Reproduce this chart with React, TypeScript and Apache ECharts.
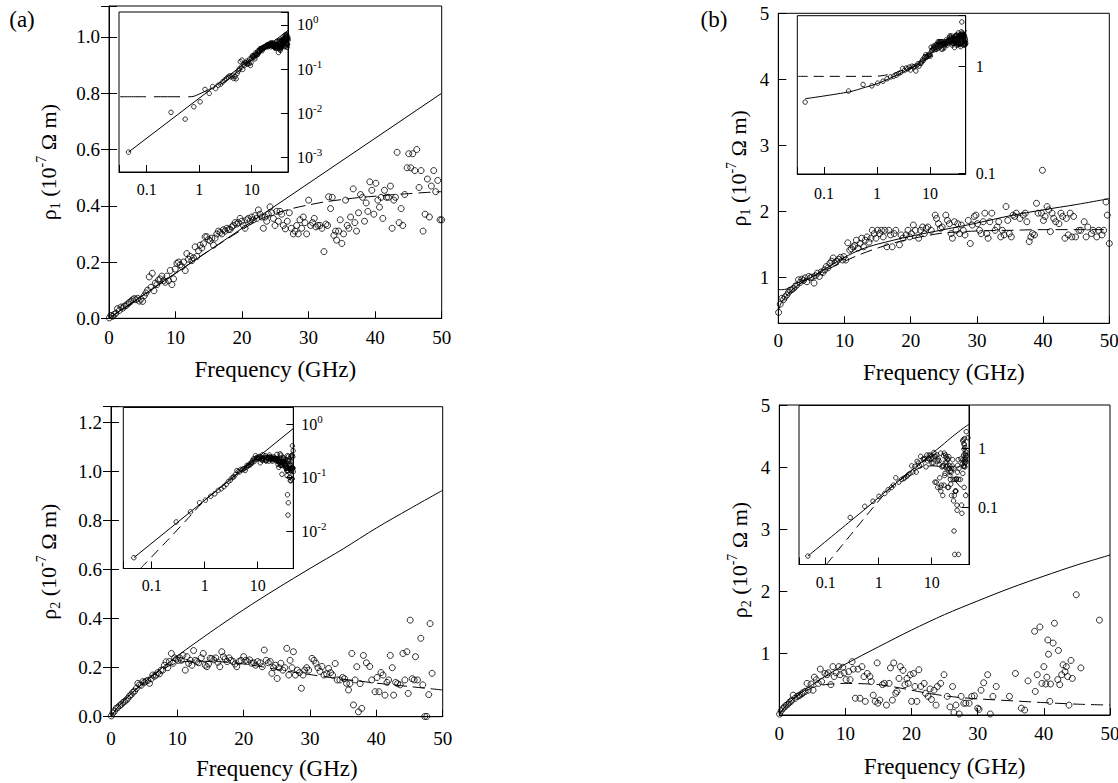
import React, { useEffect, useRef } from "react";
import * as echarts from "echarts";

const FONT = "Liberation Serif";

// ---------- Panel (a), rho1 ----------
const scatterA1: number[][] = [
  [0.045,0.0013],[0.29,0.0104],[0.54,0.0073],[0.79,0.0139],[1.04,0.018],[1.29,0.0345],[1.55,0.028],[1.8,0.04],[2.05,0.036],[2.3,0.043],
  [2.55,0.045],[2.8,0.051],[3.05,0.056],[3.3,0.061],[3.55,0.066],[3.8,0.07],[4.05,0.066],[4.3,0.071],[4.55,0.061],[4.8,0.068],
  [5.05,0.06],[5.3,0.08],[5.55,0.09],[5.8,0.1],[6.05,0.147],[6.3,0.11],[6.5,0.16],[6.75,0.098],[6.95,0.125],[7.2,0.12],
  [7.45,0.136],[7.7,0.14],[7.95,0.15],[8.2,0.134],[8.45,0.128],[8.7,0.15],[8.95,0.134],[9.2,0.17],[9.45,0.12],[9.7,0.14],
  [9.95,0.175],[10.2,0.195],[10.45,0.2],[10.7,0.19],[10.95,0.183],[11.2,0.2],[11.45,0.17],[11.7,0.23],[11.95,0.21],[12.2,0.22],
  [12.45,0.205],[12.7,0.215],[12.95,0.254],[13.2,0.22],[13.45,0.24],[13.7,0.26],[13.95,0.25],[14.2,0.265],[14.45,0.29],[14.7,0.29],
  [14.95,0.28],[15.2,0.275],[15.45,0.285],[15.7,0.26],[15.95,0.285],[16.2,0.3],[16.45,0.31],[16.7,0.305],[16.95,0.3],[17.2,0.315],
  [17.45,0.31],[17.7,0.32],[17.95,0.315],[18.2,0.316],[18.45,0.325],[18.7,0.33],[18.95,0.34],[19.2,0.335],[19.45,0.34],[19.7,0.355],
  [19.95,0.345],[20.2,0.33],[20.45,0.32],[20.7,0.35],[20.95,0.355],[21.2,0.345],[21.45,0.36],[21.7,0.35],[21.95,0.365],[22.2,0.355],
  [22.45,0.385],[22.7,0.37],[22.95,0.36],[23.2,0.32],[23.45,0.36],[23.7,0.345],[23.95,0.37],[24.2,0.396],[24.45,0.375],[24.7,0.355],
  [24.95,0.33],[25.2,0.38],[25.45,0.345],[25.7,0.38],[25.95,0.37],[26.2,0.33],[26.5,0.318],[26.8,0.345],[27.1,0.375],[27.4,0.32],
  [27.7,0.3],[27.95,0.31],[28.2,0.33],[28.45,0.3],[28.7,0.35],[28.95,0.32],[29.2,0.36],[29.45,0.34],[29.7,0.3],[30.0,0.42],
  [30.3,0.33],[30.6,0.34],[30.85,0.355],[31.1,0.325],[31.4,0.33],[31.7,0.33],[32.0,0.32],[32.3,0.237],[32.6,0.335],[32.85,0.33],
  [33.0,0.432],[33.3,0.39],[33.55,0.43],[33.8,0.295],[34.05,0.31],[34.2,0.278],[34.5,0.31],[34.75,0.35],[35.0,0.266],[35.25,0.3],
  [35.55,0.42],[35.8,0.33],[36.05,0.32],[36.3,0.36],[36.7,0.46],[36.95,0.34],[37.2,0.31],[37.5,0.375],[37.8,0.44],[38.1,0.43],
  [38.4,0.345],[38.65,0.41],[38.9,0.38],[39.2,0.485],[39.5,0.455],[39.8,0.37],[40.1,0.48],[40.4,0.42],[40.65,0.395],[40.9,0.43],
  [41.15,0.355],[41.4,0.455],[41.7,0.43],[42.0,0.43],[42.3,0.47],[42.55,0.32],[42.8,0.42],[43.05,0.43],[43.3,0.59],[43.6,0.34],
  [43.9,0.39],[44.15,0.33],[44.45,0.44],[44.8,0.535],[45.05,0.585],[45.35,0.535],[45.65,0.585],[45.95,0.525],[46.25,0.6],[46.6,0.465],
  [46.9,0.525],[47.2,0.31],[47.5,0.37],[47.85,0.495],[48.15,0.36],[48.45,0.47],[48.8,0.525],[49.1,0.45],[49.4,0.49],[49.75,0.35],[50.0,0.35]
];
const solidA1: number[][] = [[0,0],[50,0.8]];
const dashA1: number[][] = [[0,0],[5,0.08],[10,0.16],[15,0.24],[20,0.315],[22.5,0.35],[25,0.372],[27.5,0.39],[30,0.403],[32.5,0.414],[35,0.422],[37.5,0.429],[40,0.434],[42.5,0.439],[45,0.443],[47.5,0.447],[50,0.45]];
const insetSolidA1: number[][] = [[0.045,0.0013],[49,0.75]];
const insetDashA1: number[][] = [[0.031,0.0235],[0.7,0.0235],[1.0,0.027],[1.5,0.034],[2,0.04],[3,0.05],[5,0.08],[10,0.16],[20,0.315],[30,0.403],[49,0.45]];

// ---------- Panel (a), rho2 ----------
const scatterA2: number[][] = [
  [0.046,0.0032],[0.29,0.0149],[0.54,0.023],[0.8,0.034],[1.03,0.038],[1.3,0.045],[1.55,0.05],[1.8,0.058],[2.05,0.062],[2.3,0.068],
  [2.55,0.075],[2.8,0.085],[3.05,0.09],[3.3,0.1],[3.55,0.104],[3.8,0.115],[4.05,0.136],[4.3,0.13],[4.55,0.128],[4.8,0.143],
  [5.05,0.14],[5.3,0.145],[5.55,0.148],[5.8,0.136],[6.05,0.155],[6.3,0.17],[6.55,0.165],[6.8,0.17],[7.05,0.18],[7.3,0.175],
  [7.55,0.19],[7.8,0.19],[8.05,0.21],[8.3,0.224],[8.55,0.2],[8.8,0.225],[9.1,0.258],[9.35,0.218],[9.6,0.24],[9.85,0.235],
  [10.1,0.23],[10.35,0.24],[10.6,0.23],[10.85,0.25],[11.2,0.19],[11.45,0.245],[11.7,0.218],[11.95,0.23],[12.2,0.21],[12.45,0.27],
  [12.7,0.23],[12.95,0.225],[13.2,0.22],[13.6,0.24],[13.9,0.258],[14.2,0.21],[14.45,0.204],[14.7,0.215],[14.95,0.238],[15.2,0.237],
  [15.5,0.232],[15.8,0.24],[16.1,0.222],[16.4,0.204],[16.7,0.265],[16.95,0.245],[17.2,0.236],[17.5,0.225],[17.8,0.24],[18.1,0.23],
  [18.4,0.225],[18.7,0.215],[18.95,0.204],[19.3,0.225],[19.6,0.23],[20.0,0.245],[20.3,0.23],[20.6,0.225],[20.9,0.232],[21.2,0.218],
  [21.5,0.22],[21.8,0.21],[22.1,0.225],[22.5,0.22],[22.8,0.204],[23.1,0.272],[23.4,0.23],[23.7,0.22],[24.0,0.225],[24.25,0.177],
  [24.5,0.2],[24.8,0.21],[25.05,0.156],[25.3,0.2],[25.6,0.218],[25.9,0.19],[26.2,0.2],[26.5,0.279],[26.8,0.17],[27.0,0.23],
  [27.3,0.2],[27.5,0.265],[27.8,0.17],[28.1,0.19],[28.4,0.18],[28.7,0.116],[28.95,0.17],[29.2,0.19],[29.5,0.2],[29.8,0.19],
  [30.3,0.238],[30.6,0.23],[30.9,0.218],[31.2,0.2],[31.5,0.185],[31.8,0.205],[32.1,0.17],[32.5,0.175],[32.8,0.197],[33.1,0.18],
  [33.4,0.17],[33.8,0.217],[34.1,0.15],[34.5,0.15],[34.9,0.16],[35.2,0.155],[35.5,0.136],[35.8,0.109],[36.0,0.135],[36.3,0.258],
  [36.55,0.048],[36.8,0.15],[37.05,0.204],[37.3,0.02],[37.55,0.135],[37.8,0.034],[38.05,0.25],[38.5,0.22],[39.0,0.205],[39.3,0.15],
  [39.8,0.102],[40.1,0.16],[40.4,0.102],[40.7,0.18],[41.0,0.17],[41.3,0.088],[41.6,0.14],[41.85,0.15],[42.1,0.25],[42.4,0.2],
  [42.6,0.088],[42.9,0.14],[43.2,0.135],[43.6,0.13],[44.0,0.258],[44.3,0.15],[44.6,0.265],[44.8,0.095],[45.1,0.394],[45.4,0.155],
  [45.7,0.15],[45.9,0.245],[46.2,0.15],[46.7,0.32],[47.0,0.13],[47.3,0.001],[47.6,0.001],[47.9,0.09],[48.1,0.38],[48.4,0.177]
];
const solidA2: number[][] = [[0,0],[1,0.038],[2,0.066],[3,0.093],[5,0.14],[7.5,0.195],[10,0.248],[15,0.345],[20,0.437],[25,0.523],[30,0.605],[35,0.685],[40,0.77],[45,0.848],[50,0.924]];
const dashA2: number[][] = [[0,0],[1,0.038],[2,0.066],[3,0.093],[5,0.14],[7.5,0.19],[10,0.22],[12.5,0.226],[15,0.226],[17.5,0.222],[20,0.215],[22.5,0.205],[25,0.193],[27.5,0.182],[30,0.172],[32.5,0.162],[35,0.153],[37.5,0.145],[40,0.137],[42.5,0.13],[45,0.123],[47.5,0.116],[50,0.109]];
const insetSolidA2: number[][] = [[0.046,0.0032],[47,0.83]];
const insetDashA2: number[][] = [[0.061,0.002],[0.2,0.0068],[0.5,0.018],[1,0.038],[2,0.066],[5,0.14],[10,0.22],[15,0.226],[20,0.215],[30,0.172],[47,0.12]];

// ---------- Panel (b), rho1 ----------
const scatterB1: number[][] = [
  [0.044,0.465],[0.29,0.59],[0.545,0.68],[0.8,0.66],[1.03,0.7],[1.3,0.73],[1.55,0.77],[1.8,0.8],[2.05,0.81],[2.3,0.83],
  [2.55,0.86],[2.8,0.88],[3.05,0.96],[3.3,0.92],[3.55,0.97],[3.8,0.95],[4.05,0.99],[4.3,0.93],[4.6,1.01],[4.85,0.99],
  [5.1,1.0],[5.4,0.91],[5.6,1.02],[5.9,1.06],[6.2,1.01],[6.5,1.08],[6.75,1.07],[7.0,1.11],[7.25,1.16],[7.5,1.14],
  [7.8,1.21],[8.05,1.24],[8.3,1.29],[8.55,1.22],[8.8,1.24],[9.1,1.27],[9.4,1.3],[9.7,1.26],[9.9,1.31],[10.2,1.26],
  [10.5,1.52],[10.8,1.41],[11.05,1.43],[11.3,1.46],[11.55,1.48],[11.8,1.56],[12.05,1.44],[12.35,1.51],[12.6,1.59],[12.9,1.46],
  [13.15,1.56],[13.4,1.61],[13.7,1.53],[14.0,1.59],[14.2,1.71],[14.5,1.66],[14.75,1.59],[15.0,1.71],[15.3,1.66],[15.6,1.71],
  [15.85,1.61],[16.1,1.71],[16.4,1.46],[16.7,1.71],[16.95,1.64],[17.2,1.46],[17.5,1.66],[17.75,1.71],[18.3,1.49],[18.55,1.64],
  [18.8,1.59],[19.3,1.64],[19.6,1.71],[19.85,1.61],[20.1,1.66],[20.4,1.79],[20.7,1.71],[21.2,1.59],[21.5,1.71],[21.8,1.76],
  [22.05,1.66],[22.35,1.74],[22.6,1.76],[23.1,1.71],[23.7,1.94],[23.9,1.89],[24.2,1.81],[24.5,1.74],[24.75,1.76],[25.3,1.94],
  [25.55,1.86],[25.85,1.81],[26.1,1.66],[26.3,1.59],[26.6,1.84],[26.85,1.71],[27.1,1.81],[27.4,1.66],[27.65,1.79],[27.95,1.71],
  [28.2,1.64],[28.7,1.86],[29.0,1.51],[29.3,1.79],[29.6,1.92],[29.85,1.94],[30.1,1.81],[30.4,1.71],[30.65,1.66],[30.95,1.84],
  [31.2,1.97],[31.5,1.66],[31.7,1.59],[31.95,1.84],[32.25,1.97],[32.75,1.71],[33.05,1.76],[33.3,1.84],[33.6,1.61],[33.85,1.71],
  [34.1,1.64],[34.4,2.07],[34.65,1.86],[34.9,1.66],[35.2,1.61],[35.45,1.94],[35.7,1.92],[35.95,1.97],[36.5,1.89],[37.0,1.94],
  [37.3,1.97],[37.55,1.84],[37.9,1.54],[38.15,1.61],[38.4,1.66],[38.7,1.64],[39.0,2.12],[39.25,1.97],[39.75,1.97],[39.9,2.62],
  [40.05,1.86],[40.3,1.92],[40.6,2.07],[40.85,2.02],[41.1,1.69],[41.35,1.97],[41.6,1.89],[41.9,1.84],[42.4,1.81],[42.7,1.97],
  [42.95,1.92],[43.3,1.59],[43.5,1.89],[43.8,1.64],[44.1,1.97],[44.35,1.61],[44.6,1.92],[44.9,1.61],[45.4,1.71],[45.7,1.71],
  [46.2,1.84],[46.5,1.61],[46.75,1.76],[47.3,1.66],[47.55,1.71],[48.1,1.61],[48.4,1.71],[48.9,1.64],[49.15,1.71],[49.5,2.14],
  [49.7,1.94],[50.0,1.51]
];
const solidB1: number[][] = [[0.044,0.5],[0.3,0.58],[0.6,0.64],[1,0.69],[2,0.8],[3,0.88],[5,1.0],[7.5,1.15],[10,1.3],[12.5,1.42],[15,1.5],[20,1.62],[25,1.72],[30,1.82],[35,1.93],[40,2.02],[45,2.1],[50,2.19]];
const dashB1: number[][] = [[0.032,0.81],[0.7,0.81],[1.2,0.82],[1.6,0.84],[2,0.86],[3,0.92],[5,1.0],[7.5,1.12],[10,1.24],[12.5,1.35],[15,1.44],[17.5,1.52],[20,1.58],[22.5,1.63],[25,1.67],[30,1.7],[35,1.71],[40,1.72],[45,1.72],[50,1.72]];

// ---------- Panel (b), rho2 ----------
const scatterB2: number[][] = [
  [0.046,0.015],[0.29,0.068],[0.545,0.105],[0.78,0.128],[1.01,0.155],[1.3,0.173],[1.5,0.2],[1.75,0.22],[1.9,0.24],[2.1,0.32],
  [2.4,0.27],[2.7,0.3],[2.95,0.31],[3.1,0.32],[3.4,0.34],[3.6,0.36],[3.9,0.38],[4.2,0.51],[4.4,0.4],[4.8,0.5],
  [5.1,0.4],[5.3,0.61],[5.6,0.57],[5.9,0.51],[6.2,0.74],[6.4,0.54],[6.9,0.67],[7.2,0.65],[7.4,0.68],[7.8,0.49],
  [8.1,0.78],[8.3,0.62],[8.6,0.68],[9.0,0.78],[9.2,0.65],[9.6,0.77],[9.8,0.68],[10.1,0.57],[10.5,0.7],[10.7,0.57],
  [11.0,0.86],[11.2,0.74],[11.5,0.27],[11.9,0.74],[12.2,0.27],[12.5,0.78],[12.8,0.62],[13.0,0.22],[13.3,0.67],[13.7,0.62],
  [13.9,0.54],[14.2,0.32],[14.5,0.22],[14.8,0.84],[14.9,0.19],[15.2,0.24],[15.6,0.49],[15.9,0.51],[16.2,0.16],[16.6,0.51],
  [16.8,0.76],[17.1,0.24],[17.3,0.84],[17.6,0.35],[17.8,0.38],[18.1,0.59],[18.3,0.78],[18.7,0.72],[19.0,0.49],[19.3,0.59],
  [19.5,0.51],[19.8,0.65],[20.0,0.22],[20.3,0.67],[20.5,0.46],[20.8,0.22],[21.1,0.73],[21.4,0.46],[21.9,0.51],[22.1,0.35],
  [22.5,0.3],[22.8,0.42],[23.0,0.25],[23.4,0.4],[23.7,0.16],[23.9,0.46],[24.4,0.51],[24.9,0.65],[25.4,0.3],[25.8,0.13],
  [26.2,0.46],[26.4,0.04],[26.7,0.16],[27.2,0.016],[27.5,0.3],[27.9,0.19],[28.2,0.19],[28.7,0.19],[29.1,0.3],[29.5,0.31],
  [30.0,0.11],[30.2,0.09],[30.5,0.4],[30.9,0.52],[31.5,0.65],[31.9,0.016],[32.3,0.3],[32.8,0.46],[34.8,0.3],[35.7,0.67],
  [36.6,0.11],[37.1,0.08],[37.6,0.55],[38.6,1.35],[38.7,0.38],[39.0,0.65],[39.4,1.42],[39.7,0.51],[40.0,0.78],[40.3,0.5],
  [40.45,0.61],[40.6,1.21],[40.7,0.98],[40.9,0.22],[41.0,0.5],[41.4,1.16],[41.6,1.48],[42.1,0.57],[42.2,1.04],[42.4,0.49],
  [42.7,0.65],[42.9,0.81],[43.2,0.7],[43.4,0.78],[43.6,0.62],[43.8,0.16],[44.1,0.88],[44.3,0.59],[44.9,1.94],[45.6,0.76],
  [48.4,1.53]
];
const solidB2: number[][] = [[0.046,0.015],[0.3,0.06],[0.6,0.1],[1,0.149],[2,0.248],[3,0.336],[5,0.49],[7.5,0.66],[10,0.82],[15,1.1],[20,1.37],[25,1.62],[30,1.84],[35,2.05],[40,2.24],[45,2.42],[50,2.58]];
const dashB2: number[][] = [[0,0],[1,0.15],[2,0.25],[3,0.33],[5,0.44],[7,0.49],[10,0.51],[12.5,0.505],[15,0.49],[17.5,0.45],[20,0.4],[22.5,0.35],[25,0.31],[27.5,0.28],[30,0.26],[35,0.23],[40,0.2],[45,0.175],[50,0.16]];
const insetDashB2: number[][] = [[0.103,0.0108],[0.3,0.035],[0.6,0.075],[1,0.13],[1.3,0.17],[2,0.25],[3,0.33],[5,0.44],[7,0.49],[10,0.51],[15,0.49],[20,0.4],[30,0.26],[50,0.16]];

// ---------- layout ----------
const mainTitle = "Frequency (GHz)";
const yName1 = "{t|ρ}{s|1}{t| (10}{p|-7}{t| Ω m)}";
const yName2 = "{t|ρ}{s|2}{t| (10}{p|-7}{t| Ω m)}";

const nameRich = {
  t: { fontSize: 22, fontFamily: FONT, color: "#000", lineHeight: 28 },
  s: { fontSize: 14, fontFamily: FONT, color: "#000", verticalAlign: "bottom" },
  p: { fontSize: 14, fontFamily: FONT, color: "#000", verticalAlign: "top" },
};

const isPow10 = (v: number) => {
  const l = Math.log10(v);
  return Math.abs(l - Math.round(l)) < 1e-6;
};
const decLabel = (v: number) => {
  if (!isPow10(v)) return "";
  const n = Math.round(Math.log10(v));
  return n < 0 ? "0." + "0".repeat(-n - 1) + "1" : "1" + "0".repeat(n);
};
const powLabel = (v: number) => {
  if (!isPow10(v)) return "";
  const n = Math.round(Math.log10(v));
  return "{b|10}{p|" + n + "}";
};

function buildOption(): any {
  const gridBase = { show: true, borderColor: "#000", borderWidth: 1, containLabel: false, outerBoundsMode: "none" };
  const grid = [
    { left: 109, top: 6, width: 332.7, height: 312.3 },
    { left: 119, top: 12, width: 169, height: 160, backgroundColor: "#fff" },
    { left: 111, top: 406.7, width: 331.7, height: 310 },
    { left: 123.3, top: 407.5, width: 170, height: 161, backgroundColor: "#fff" },
    { left: 778.3, top: 13.3, width: 331, height: 310 },
    { left: 797.3, top: 15.7, width: 168.4, height: 158.3, backgroundColor: "#fff" },
    { left: 779.3, top: 405, width: 330.7, height: 310 },
    { left: 799, top: 405.5, width: 170, height: 159, backgroundColor: "#fff" },
  ].map((g) => ({ ...gridBase, ...g }));

  const mainX = (gi: number, margin: number, nameGap: number) => ({
    type: "value", gridIndex: gi, min: 0, max: 50, interval: 10,
    axisLine: { show: true, onZero: false, lineStyle: { color: "#000", width: 1 } },
    axisTick: { show: true, inside: true, length: 7, lineStyle: { color: "#000" } },
    axisLabel: { margin, color: "#000", fontSize: 19, fontFamily: FONT, showMinLabel: true, showMaxLabel: true },
    splitLine: { show: false },
    name: mainTitle, nameLocation: "middle", nameGap,
    nameTextStyle: { color: "#000", fontSize: 23, fontFamily: FONT },
  });
  const insetX = (gi: number, min: number, max: number, margin: number) => ({
    type: "log", logBase: 10, gridIndex: gi, min, max, splitNumber: 5,
    axisLine: { show: true, onZero: false, lineStyle: { color: "#000", width: 1 } },
    axisTick: { show: true, inside: true, length: 7, lineStyle: { color: "#000" } },
    axisLabel: { margin, color: "#000", fontSize: 16, fontFamily: FONT, showMinLabel: true, showMaxLabel: true, formatter: decLabel },
    splitLine: { show: false }, minorTick: { show: false },
  });
  const mainY = (gi: number, min: number, max: number, interval: number | undefined, fmt: (v: number) => string, name: string, nameGap: number) => ({
    type: "value", gridIndex: gi, min, max, interval, splitNumber: 5,
    axisLine: { show: true, onZero: false, lineStyle: { color: "#000", width: 1 } },
    axisTick: { show: true, inside: true, length: 8, lineStyle: { color: "#000" } },
    axisLabel: { margin: 9, color: "#000", fontSize: 19, fontFamily: FONT, showMinLabel: true, showMaxLabel: true, formatter: fmt },
    splitLine: { show: false },
    name, nameLocation: "middle", nameGap,
    nameTextStyle: { color: "#000", fontSize: 22, fontFamily: FONT, rich: nameRich },
  });
  const mirrorY = (gi: number, min: number, max: number, interval: number) => ({
    type: "value", gridIndex: gi, position: "right", min, max, interval,
    axisLine: { show: false }, axisLabel: { show: false }, splitLine: { show: false },
    axisTick: { show: true, inside: true, length: 8, lineStyle: { color: "#000" } },
  });
  const insetY = (gi: number, min: number, max: number, margin: number, pow: boolean) => ({
    type: "log", logBase: 10, gridIndex: gi, position: "right", min, max, splitNumber: 5,
    axisLine: { show: true, onZero: false, lineStyle: { color: "#000", width: 1 } },
    axisTick: { show: true, inside: true, length: 7, lineStyle: { color: "#000" } },
    axisLabel: {
      margin, color: "#000", fontSize: 16, fontFamily: FONT, showMinLabel: true, showMaxLabel: true,
      formatter: pow ? powLabel : decLabel,
      rich: {
        b: { fontSize: 16, fontFamily: FONT, color: "#000", lineHeight: 22 },
        p: { fontSize: 11, fontFamily: FONT, color: "#000", verticalAlign: "top" },
      },
    },
    splitLine: { show: false }, minorTick: { show: false },
  });

  const fmtA = (v: number) => (Math.abs(v * 5 - Math.round(v * 5)) < 1e-6 ? v.toFixed(1) : "");
  const fmtBtop = (v: number) => (Math.abs(v - Math.round(v)) < 1e-6 ? String(Math.round(v)) : "");
  const fmtBbot = (v: number) => (v > 0.5 && Math.abs(v - Math.round(v)) < 1e-6 ? String(Math.round(v)) : "");

  const xAxis = [
    mainX(0, 10, 40),
    insetX(1, 0.0297, 49, 9),
    mainX(2, 12, 40),
    insetX(3, 0.0291, 47, 9),
    mainX(4, 8, 38),
    insetX(5, 0.0313, 47.2, 11),
    mainX(6, 9, 40),
    insetX(7, 0.0313, 50.6, 10),
  ];
  const yAxis = [
    mainY(0, 0, 1.11, 0.2, fmtA, yName1, 47),
    insetY(1, 0.00046, 1.97, 9, true),
    mainY(2, 0, 1.265, 0.2, fmtA, yName2, 49),
    insetY(3, 0.00201, 2.05, 8, true),
    mainY(4, 0.3, 5, undefined, fmtBtop, yName1, 26),
    insetY(5, 0.0985, 3.0, 10, false),
    mainY(6, 0, 5, 1, fmtBbot, yName2, 26),
    insetY(7, 0.0108, 5.4, 9, false),
    mirrorY(0, 0, 1.11, 0.2),
    mirrorY(2, 0, 1.265, 0.2),
  ];

  const sc = (i: number, data: number[][], size: number) => ({
    type: "scatter", xAxisIndex: i, yAxisIndex: i, data, symbol: "circle", symbolSize: size,
    itemStyle: { color: "rgba(0,0,0,0)", borderColor: "#000", borderWidth: 1 }, silent: true, z: 3, clip: true,
  });
  const ln = (i: number, data: number[][], dash?: number[], smooth?: boolean) => ({
    type: "line", xAxisIndex: i, yAxisIndex: i, data, showSymbol: false, symbol: "none",
    lineStyle: { color: "#000", width: 1, type: dash || "solid" }, smooth: smooth ? 0.3 : false, silent: true, z: 2, clip: true,
  });
  const D = [12, 6];
  const series = [
    ln(0, solidA1), ln(0, dashA1, D, true), sc(0, scatterA1, 6),
    ln(1, insetSolidA1), ln(1, insetDashA1, [26, 8], true), sc(1, scatterA1, 4.5),
    ln(2, solidA2, undefined, true), ln(2, dashA2, D, true), sc(2, scatterA2, 6),
    ln(3, insetSolidA2), ln(3, insetDashA2, [10, 6], true), sc(3, scatterA2, 4.5),
    ln(4, solidB1, undefined, true), ln(4, dashB1, D, true), sc(4, scatterB1, 6),
    ln(5, solidB1, undefined, true), ln(5, dashB1, [10, 6], true), sc(5, scatterB1, 4.5),
    ln(6, solidB2, undefined, true), ln(6, dashB2, D, true), sc(6, scatterB2, 6),
    ln(7, solidB2, undefined, true), ln(7, insetDashB2, [10, 6], true), sc(7, scatterB2, 4.5),
  ];

  return {
    animation: false,
    backgroundColor: "#fff",
    textStyle: { fontFamily: FONT, color: "#000" },
    grid, xAxis, yAxis, series,
    graphic: [
      { type: "text", x: 22, y: 19, style: { text: "(a)", fontSize: 23, fontFamily: FONT, fill: "#000", align: "center", verticalAlign: "middle" } },
      { type: "text", x: 714, y: 19, style: { text: "(b)", fontSize: 23, fontFamily: FONT, fill: "#000", align: "center", verticalAlign: "middle" } },
    ],
  };
}

export default function App() {
  const ref = useRef<HTMLDivElement>(null);
  useEffect(() => {
    if (!ref.current) return;
    const chart = echarts.init(ref.current, null, { renderer: "svg" });
    chart.setOption(buildOption());
    return () => chart.dispose();
  }, []);
  return (
    <div
      ref={ref}
      style={{ position: "absolute", left: 0, top: 0, width: 1118, height: 783, background: "#fff", fontFamily: FONT }}
    />
  );
}
